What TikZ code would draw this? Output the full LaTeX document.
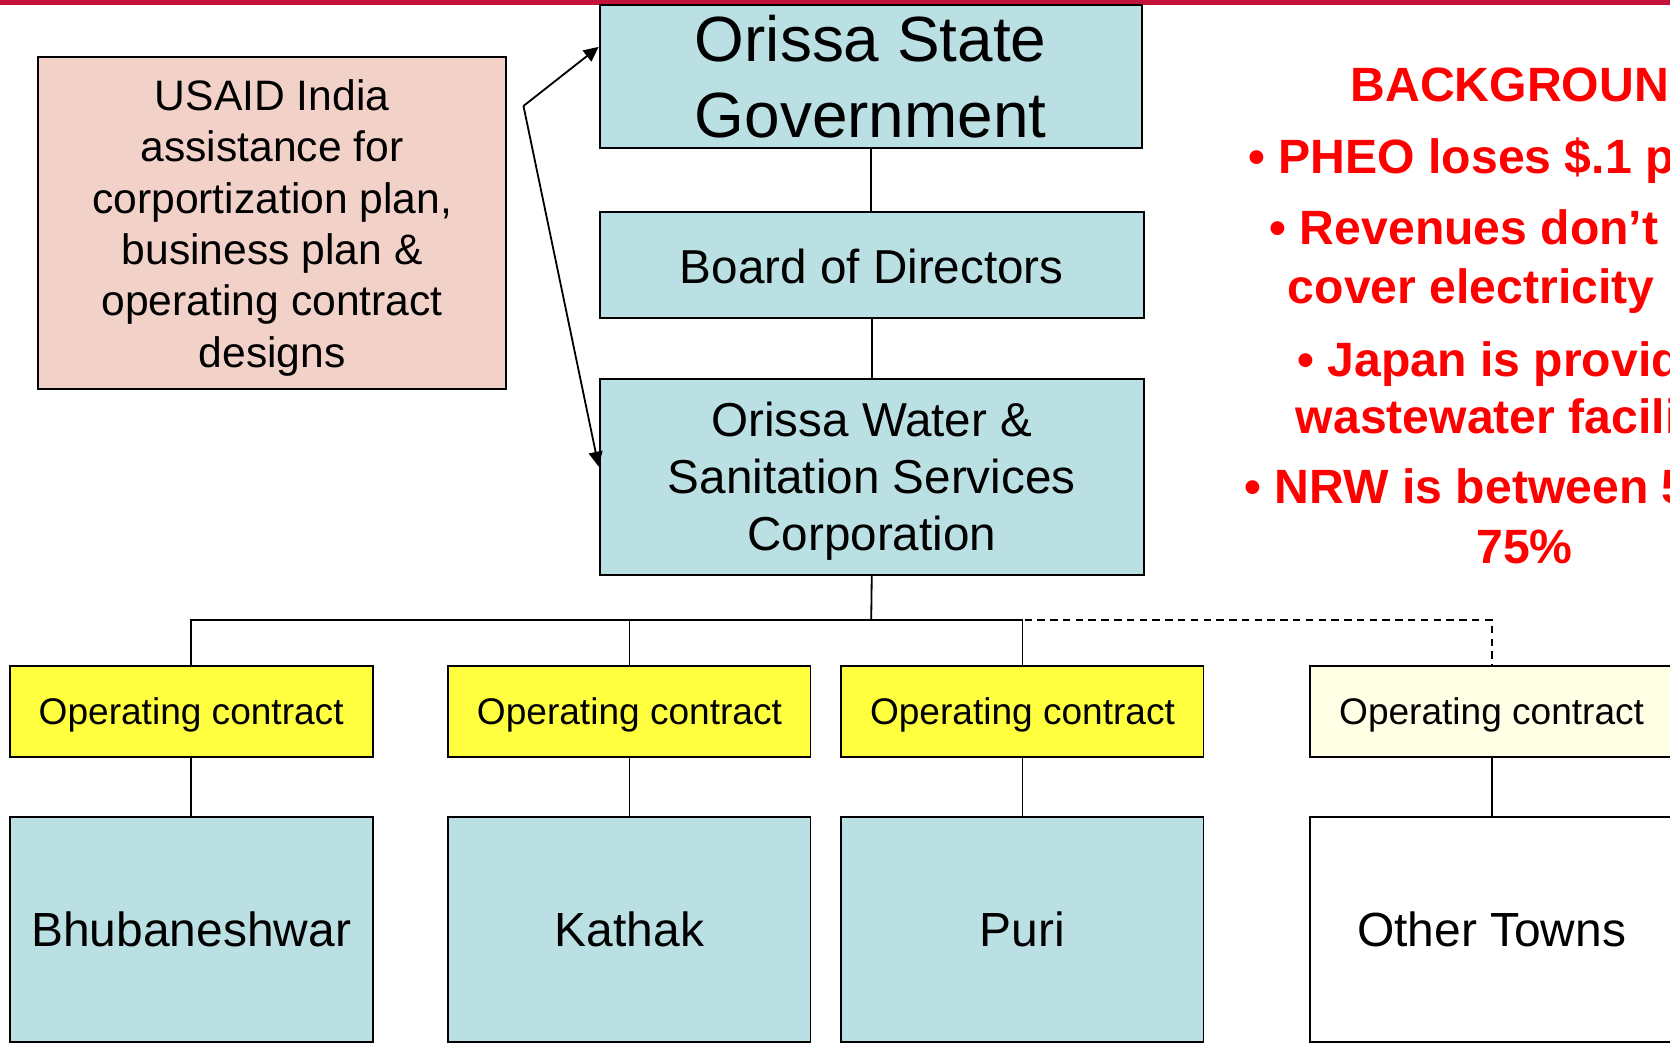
\documentclass[tikz,border=0pt]{standalone}
\usepackage{fontspec}
\setmainfont{Liberation Sans}
\usetikzlibrary{arrows.meta}
\definecolor{topbar}{RGB}{196,18,58}
\definecolor{boxblue}{RGB}{186,224,227}
\definecolor{boxpink}{RGB}{242,209,200}
\definecolor{boxyellow}{RGB}{255,255,64}
\definecolor{boxpale}{RGB}{255,255,229}
\definecolor{bgred}{RGB}{255,0,0}
\begin{document}
\begin{tikzpicture}[x=1pt,y=-1pt,
  box/.style={draw=black, line width=1.8pt, inner sep=0pt, rectangle},
  txt/.style={inner sep=0pt, align=center, text=black},
  conn/.style={draw=black, line width=1.7pt},
  dashconn/.style={conn, dash pattern=on 7pt off 5pt},
  arr/.style={conn, -{Triangle[length=14pt,width=13pt]}},
  opbox/.style={box, fill=boxyellow, minimum height=85.5pt, text height=25.5pt, text depth=0pt, font=\fontsize{34.8}{41.8}\selectfont},
  townbox/.style={box, fill=boxblue, minimum height=211pt, text height=33pt, text depth=0pt, font=\fontsize{45}{54}\selectfont},
  bgtext/.style={inner sep=0pt, anchor=base west, text=bgred, font=\bfseries\fontsize{45.2}{54}\selectfont}
]
\useasboundingbox (0,0) rectangle (1568,981);
\clip (0,0) rectangle (1568,981);
\fill[topbar] (0,0) rectangle (1568,4.3);

% top hierarchy
\node[box, fill=boxblue, minimum width=509pt, minimum height=134pt] (gov) at (817.5,72) {};
\node[txt, font=\fontsize{60}{71}\selectfont] (govtext) at (gov.center) {Orissa State\\Government};

\node[box, fill=boxblue, minimum width=511pt, minimum height=99.5pt, text height=35pt, text depth=0pt, font=\fontsize{44.7}{53.3}\selectfont] (board) at (818.5,248.75) {Board of Directors};

\node[box, fill=boxblue, minimum width=511pt, minimum height=184pt] (water) at (818.5,447.6) {};
\node[txt, font=\fontsize{44.7}{53.3}\selectfont] (watertext) at ([yshift=-4pt]water.center) {Orissa Water \&\\Sanitation Services\\Corporation};

\node[box, fill=boxpink, minimum width=439pt, minimum height=311.8pt] (usaid) at (255.5,209.1) {};
\node[txt, font=\fontsize{40}{48.3}\selectfont] (usaidtext) at ([yshift=-4.7pt]usaid.center) {USAID India\\assistance for\\corportization plan,\\business plan \&\\operating contract\\designs};

% operating contracts
\node[opbox, minimum width=341pt] (op1) at (179.5,667.75) {Operating contract};
\node[opbox, minimum width=340pt] (op2) at (591,667.75) {Operating contract};
\node[opbox, minimum width=340pt] (op3) at (960,667.75) {Operating contract};
\node[opbox, fill=boxpale, minimum width=341pt] (op4) at (1400.5,667.75) {Operating contract};

% towns
\node[townbox, minimum width=341pt] (t1) at (179.5,872.5) {Bhubaneshwar};
\node[townbox, minimum width=340pt] (t2) at (591,872.5) {Kathak};
\node[townbox, minimum width=340pt] (t3) at (960,872.5) {Puri};
\node[townbox, fill=white, minimum width=341pt] (t4) at (1400.5,872.5) {Other Towns};

% connectors
\coordinate (hub) at (818,582);
\draw[conn] (gov.south -| 818,0) -- (board.north -| 818,0);
\draw[conn] (board.south) -- (water.north);
\draw[conn] (water.south) -- (hub);
\draw[dashconn] (hub) -| (op4.north);
\draw[conn] (op1.north) |- (hub);
\draw[conn] (op3.north) |- (hub);
\draw[conn] (op2.north) -- (op2.north |- hub);
\draw[conn] (op1.south) -- (t1.north);
\draw[conn] (op2.south) -- (t2.north);
\draw[conn] (op3.south) -- (t3.north);
\draw[conn] (op4.south) -- (t4.north);

% arrows from USAID
\coordinate (src) at (491.5,99.5);
\draw[arr] (src) -- ([yshift=28pt]gov.west);
\draw[arr] (src) -- ([yshift=9.5pt]water.west);

% background text
\node[bgtext] (bg1) at (1268,95.5) {BACKGROUND};
\node[bgtext] (bg2) at (1172,162.7) {• PHEO loses \$.1 per};
\node[bgtext] (bg3) at (1192,230) {• Revenues don’t};
\node[bgtext] (bg4) at (1209,284.7) {cover electricity bills};
\node[bgtext] (bg5) at (1218,353.7) {• Japan is providing};
\node[bgtext] (bg6) at (1216.5,406.7) {wastewater facilities};
\node[bgtext] (bg7) at (1168.5,473) {• NRW is between 50};
\node[bgtext] (bg8) at (1386,529) {75\%};
\end{tikzpicture}
\end{document}
